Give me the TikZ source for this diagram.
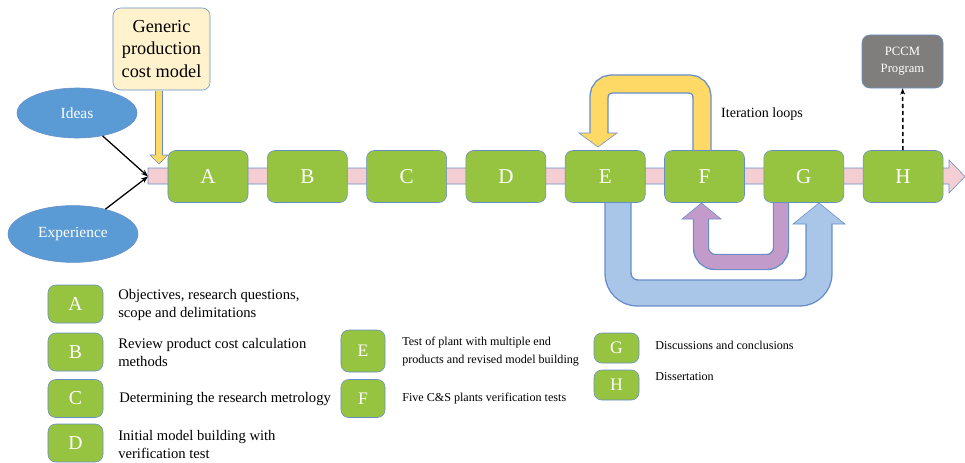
\documentclass[tikz,border=0pt]{standalone}
\usepackage{fontspec}
\setmainfont{Liberation Serif}
\usetikzlibrary{shapes.geometric,arrows.meta}
\definecolor{stagegreen}{RGB}{150,196,64}
\definecolor{rim}{RGB}{104,142,200}
\definecolor{bandpink}{RGB}{244,206,210}
\definecolor{ideablue}{RGB}{91,155,213}
\definecolor{notecream}{RGB}{255,242,204}
\definecolor{loopyellow}{RGB}{255,217,102}
\definecolor{loopblue}{RGB}{169,197,232}
\definecolor{looppurple}{RGB}{195,155,203}
\definecolor{pccmgray}{RGB}{128,125,125}
\def\px{0.7113pt}

\tikzset{
	stage/.style={draw=rim, fill=stagegreen, rounded corners=5.5pt, minimum width=2cm,
		minimum height=1.3cm, text=white, font=\fontsize{15}{18}\selectfont},
	legbox/.style={stage, minimum width=1.375cm, minimum height=0.95cm, font=\fontsize{14}{16}\selectfont},
	legsmall/.style={stage, font=\fontsize{12.5}{15}\selectfont},
	legtext/.style={anchor=west, inner sep=0pt, align=left, font=\fontsize{10.4}{12.8}\selectfont},
	legtextsmall/.style={legtext, font=\fontsize{8.6}{12.8}\selectfont},
	idea/.style={ellipse, draw=rim, fill=ideablue, text=white, inner sep=0pt, font=\fontsize{11}{13}\selectfont},
	shaftrim/.style={rim, line width=#1*\px+1.4*\px},
	shaftfill/.style={line width=#1*\px-1.4*\px},
}

\begin{document}
\begin{tikzpicture}[x=0.025cm, y=-0.025cm]
	\useasboundingbox (0,0) rectangle (965,462);
	
	%BAND
	\filldraw[fill=bandpink, draw=rim] (148,168) -- (949,168) -- (949,160) -- (965,176.5)
		-- (949,193) -- (949,184) -- (148,184) -- cycle;
	\coordinate (start) at (148,176.5);
	
	%LOOPS
	%yellow: F back to E
	\draw[shaftrim=18, rounded corners=9pt] (702,152) -- (702,84) -- (599,84) -- (599,133);
	\filldraw[fill=loopyellow, draw=rim] (579,133) -- (617,133) -- (598,147) -- cycle;
	\draw[shaftfill=18, loopyellow, rounded corners=9pt] (702,152) -- (702,84) -- (599,84) -- (599,134.5);
	%blue: E on to G
	\draw[shaftrim=26, rounded corners=14pt] (618,202) -- (618,293) -- (819,293) -- (819,224);
	\filldraw[fill=loopblue, draw=rim] (793,224) -- (845,224) -- (819,203) -- cycle;
	\draw[shaftfill=26, loopblue, rounded corners=14pt] (618,202) -- (618,293) -- (819,293) -- (819,222.5);
	%purple: G back to F
	\draw[shaftrim=15, rounded corners=10pt] (781,202) -- (781,262) -- (701,262) -- (701,219);
	\filldraw[fill=looppurple, draw=rim] (682,219) -- (721,219) -- (701.5,203) -- cycle;
	\draw[shaftfill=15, looppurple, rounded corners=10pt] (781,202) -- (781,262) -- (701,262) -- (701,217.5);
	%yellow: model into band
	\draw[shaftrim=7] (159,91) -- (159,155);
	\filldraw[fill=loopyellow, draw=rim] (150,155) -- (168,155) -- (159,164) -- cycle;
	\draw[shaftfill=7, loopyellow] (159,91) -- (159,156.5);
	
	%STAGES
	\foreach \l [count=\i from 0] in {A,B,C,D,E,F,G,H}
		\node[stage] (\l) at ({208+99.3*\i},176.5) {\l};
	
	%INPUTS
	\node[draw=rim, fill=notecream, rounded corners=5.5pt, minimum width=2.425cm, minimum height=2.05cm,
		align=center, font=\fontsize{13}{16.3}\selectfont] (model) at (161.5,49) {Generic\\production\\cost model};
	\node[idea, minimum width=3cm, minimum height=1.25cm] (ideas) at (77,113) {Ideas};
	\node[idea, minimum width=3.25cm, minimum height=1.42cm] (experience) at (73,234) {Experience};
	\draw[line width=0.9pt, -{Stealth[length=5pt]}] (ideas) -- (start);
	\draw[line width=0.9pt, -{Stealth[length=5pt]}] (experience) -- (start);
	
	%OUTPUT
	\node[draw=rim, fill=pccmgray, rounded corners=5.5pt, minimum width=2.025cm, minimum height=1.325cm,
		text=white, align=center, font=\fontsize{9}{12}\selectfont] (pccm) at (902.5,61.5) {PCCM\\Program};
	\draw[line width=1.1pt, dash pattern=on 3pt off 2pt, -{Stealth[length=4.5pt]}] (H) -- (pccm);
	\node[font=\fontsize{10}{12}\selectfont] (iter) at (762,114) {Iteration loops};
	
	%LEGEND
	\node[legbox] (kA) at (75.5,304) {A};
	\node[legbox] (kB) at (75.5,352) {B};
	\node[legbox] (kC) at (75.5,398.5) {C};
	\node[legbox] (kD) at (75.5,443) {D};
	\node[legsmall, minimum width=1.1cm, minimum height=1.05cm] (kE) at (363,351) {E};
	\node[legsmall, minimum width=1.1cm, minimum height=0.95cm] (kF) at (363,398.5) {F};
	\node[legsmall, minimum width=1.125cm, minimum height=0.75cm] (kG) at (616.5,348) {G};
	\node[legsmall, minimum width=1.125cm, minimum height=0.75cm] (kH) at (616.5,385) {H};
	\node[legtext] (tA) at (118,305) {Objectives, research questions,\\scope and delimitations};
	\node[legtext] (tB) at (118,352.5) {Review product cost calculation\\methods};
	\node[legtext] (tC) at (119,399) {Determining the research metrology};
	\node[legtext] (tD) at (118,444) {Initial model building with\\verification test};
	\node[legtextsmall] (tE) at (402,352) {Test of plant with multiple end\\products and revised model building};
	\node[legtextsmall] (tF) at (402,399) {Five C\&S plants verification tests};
	\node[legtextsmall] (tG) at (655,345) {Discussions and conclusions};
	\node[legtextsmall] (tH) at (655,377) {Dissertation};
\end{tikzpicture}
\end{document}
